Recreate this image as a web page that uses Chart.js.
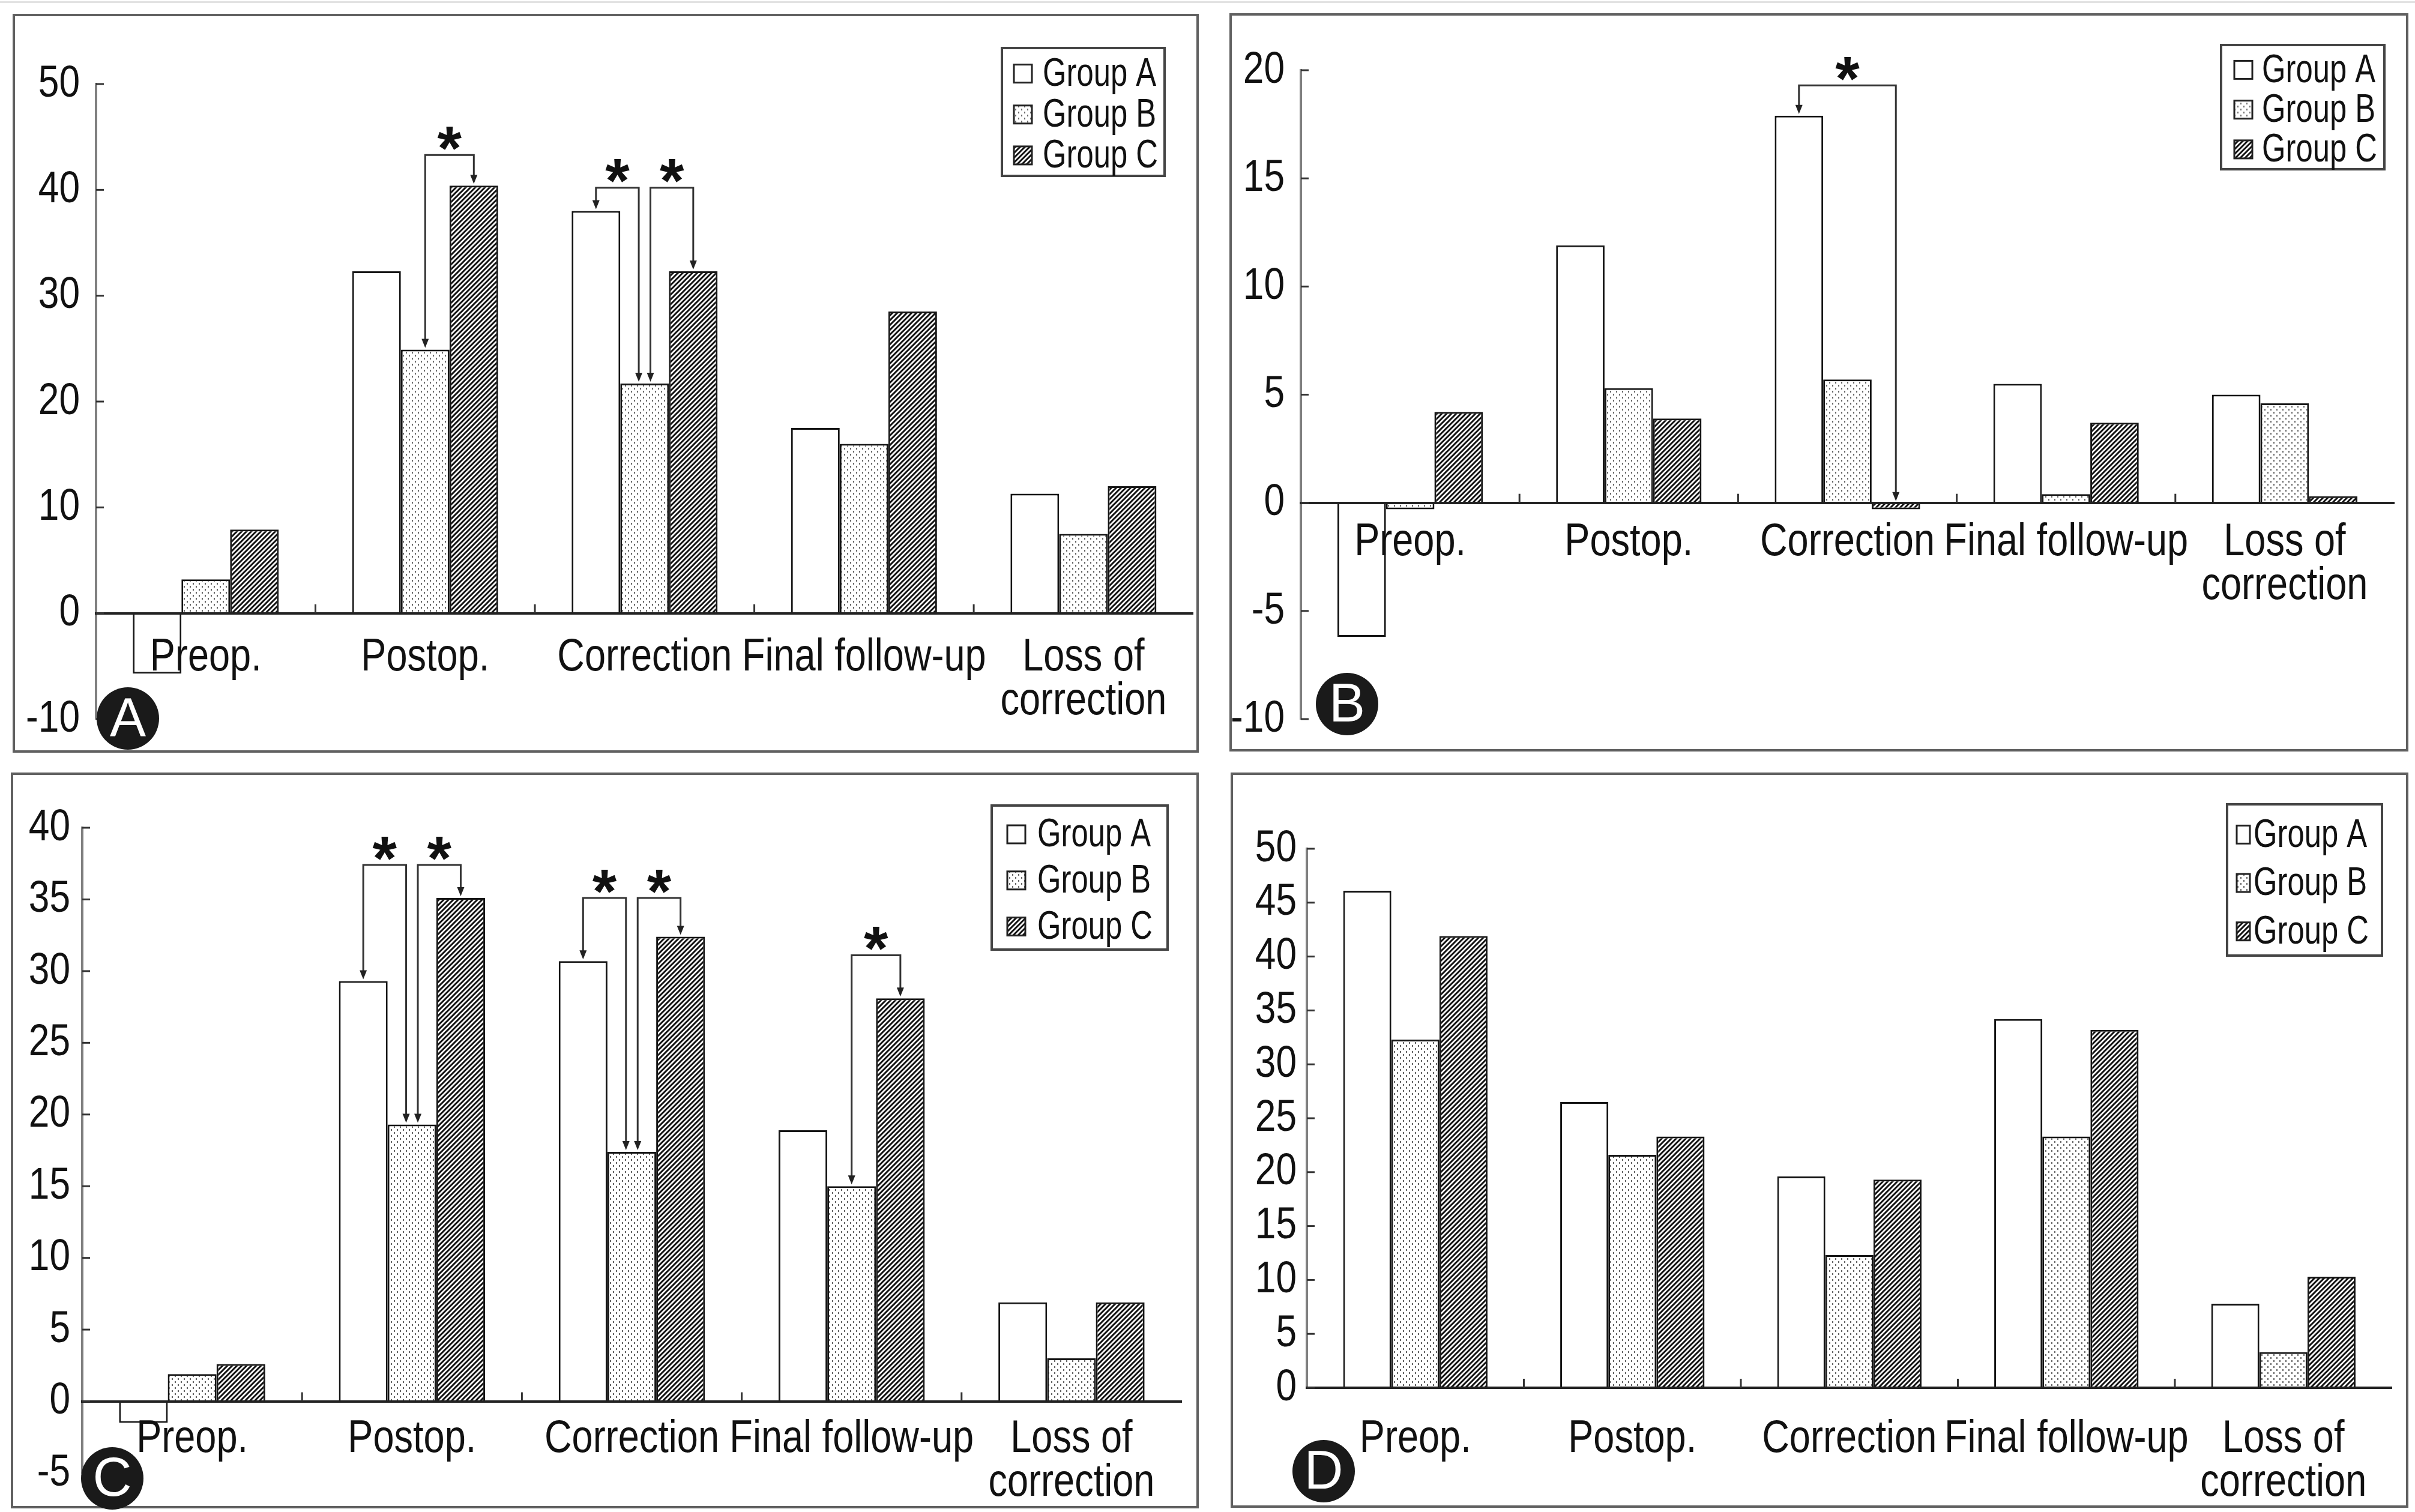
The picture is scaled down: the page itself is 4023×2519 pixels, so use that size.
<!DOCTYPE html>
<html><head><meta charset="utf-8">
<script src="https://cdn.jsdelivr.net/npm/chart.js@4/dist/chart.umd.min.js"></script>
<style>
html,body{margin:0;padding:0;background:#fff;}
body{width:4023px;height:2519px;position:relative;overflow:hidden;}
canvas{position:absolute;}
.box{position:absolute;border:4px solid #606060;box-sizing:border-box;}
.topline{position:absolute;left:0;top:2px;width:4023px;height:3px;background:#e2e2e2;}
</style></head><body>
<div class="topline"></div>
<div class="box" style="left:21px;top:23px;width:1976px;height:1231px"></div>
<div class="box" style="left:2048px;top:22px;width:1964px;height:1230px"></div>
<div class="box" style="left:18px;top:1287px;width:1979px;height:1226px"></div>
<div class="box" style="left:2050px;top:1287px;width:1962px;height:1225px"></div>
<canvas id="cA" width="2011" height="1270" style="left:0;top:0"></canvas>
<canvas id="cB" width="2012" height="1270" style="left:2011px;top:0"></canvas>
<canvas id="cC" width="2011" height="1249" style="left:0;top:1270px"></canvas>
<canvas id="cD" width="2012" height="1249" style="left:2011px;top:1270px"></canvas>
<script>
// ---------- data ----------
const categories = ['Preop.', 'Postop.', 'Correction', 'Final follow-up', ['Loss of', 'correction']];
const seriesNames = ['Group A', 'Group B', 'Group C'];

const aGroupA = [-5.7, 32.3, 38.0, 17.5, 11.3];
const aGroupB = [3.2, 24.9, 21.7, 16.0, 7.5];
const aGroupC = [7.9, 40.4, 32.3, 28.5, 12.0];

const bGroupA = [-6.2, 11.9, 17.9, 5.5, 5.0];
const bGroupB = [-0.3, 5.3, 5.7, 0.4, 4.6];
const bGroupC = [4.2, 3.9, -0.3, 3.7, 0.3];

const cGroupA = [-1.5, 29.3, 30.7, 18.9, 6.9];
const cGroupB = [1.9, 19.3, 17.4, 15.0, 3.0];
const cGroupC = [2.6, 35.1, 32.4, 28.1, 6.9];

const dGroupA = [46.1, 26.5, 19.6, 34.2, 7.8];
const dGroupB = [32.3, 21.6, 12.3, 23.3, 3.3];
const dGroupC = [41.9, 23.3, 19.3, 33.2, 10.3];

const aTicks = [-10, 0, 10, 20, 30, 40, 50];
const bTicks = [-10, -5, 0, 5, 10, 15, 20];
const cTicks = [-5, 0, 5, 10, 15, 20, 25, 30, 35, 40];
const dTicks = [0, 5, 10, 15, 20, 25, 30, 35, 40, 45, 50];

// significance brackets: [category index, from series, to series, bracket level]
const aSig = [[1, 1, 2, 43.3], [2, 0, 1, 40.2], [2, 1, 2, 40.2]];
const bSig = [[2, 0, 2, 19.3]];
const cSig = [[1, 0, 1, 37.4], [1, 1, 2, 37.4], [2, 0, 1, 35.1], [2, 1, 2, 35.1], [3, 1, 2, 31.1]];
const dSig = [];

const panelLetters = ['A', 'B', 'C', 'D'];

// ---------- styles ----------
const FONT = "'Liberation Sans', Arial, sans-serif";
const SQUEEZE = 0.83;   // condensed (Arial Narrow-like) rendering of the text

function makeDots() {
  const c = document.createElement('canvas'); c.width = 10; c.height = 10;
  const g = c.getContext('2d');
  g.fillStyle = '#ffffff'; g.fillRect(0, 0, 10, 10);
  g.fillStyle = '#6a6a6a';
  g.fillRect(1, 1, 2, 3); g.fillRect(6, 6, 2, 3);
  return g.createPattern(c, 'repeat');
}
function makeHatch() {
  const s = 8;
  const c = document.createElement('canvas'); c.width = s; c.height = s;
  const g = c.getContext('2d');
  g.fillStyle = '#ffffff'; g.fillRect(0, 0, s, s);
  g.strokeStyle = '#111'; g.lineWidth = 3.0;
  g.beginPath();
  g.moveTo(-2, s + 2); g.lineTo(s + 2, -2);
  g.moveTo(-2, 2); g.lineTo(2, -2);
  g.moveTo(s - 2, s + 2); g.lineTo(s + 2, s - 2);
  g.stroke();
  return g.createPattern(c, 'repeat');
}
const fills = ['#ffffff', makeDots(), makeHatch()];

const panels = [
  { id: 'cA', letter: panelLetters[0], data: [aGroupA, aGroupB, aGroupC], ticks: aTicks, sig: aSig,
    cw: 2011, ch: 1270, area: { l: 160, t: 140, r: 1998, b: 1220 }, yPad: 27, xPad: 38,
    legend: { x: 1669, y: 80, w: 271, h: 213, ix: 20, iw: 30, tx: 68 }, circle: { x: 213, y: 1197 } },
  { id: 'cB', letter: panelLetters[1], data: [bGroupA, bGroupB, bGroupC], ticks: bTicks, sig: bSig,
    cw: 2012, ch: 1270, area: { l: 156, t: 117, r: 1977, b: 1214 }, yPad: 27, xPad: 30,
    legend: { x: 1689, y: 75, w: 272, h: 207, ix: 22, iw: 30, tx: 68 }, circle: { x: 233, y: 1173 } },
  { id: 'cC', letter: panelLetters[2], data: [cGroupA, cGroupB, cGroupC], ticks: cTicks, sig: cSig,
    cw: 2011, ch: 1249, area: { l: 137, t: 109, r: 1968, b: 1193 }, yPad: 20, xPad: 27,
    legend: { x: 1652, y: 72, w: 293, h: 240, ix: 26, iw: 30, tx: 76 }, circle: { x: 187, y: 1193 } },
  { id: 'cD', letter: panelLetters[3], data: [dGroupA, dGroupB, dGroupC], ticks: dTicks, sig: dSig,
    cw: 2012, ch: 1249, area: { l: 166, t: 144, r: 1988, b: 1042 }, yPad: 17, xPad: 50,
    legend: { x: 1699, y: 70, w: 258, h: 252, ix: 16, iw: 22, tx: 44 }, circle: { x: 194, y: 1181 } }
];

function arrowHead(ctx, x, y) {
  ctx.beginPath();
  ctx.moveTo(x, y);
  ctx.lineTo(x - 6, y - 15);
  ctx.lineTo(x + 6, y - 15);
  ctx.closePath();
  ctx.fill();
}

function condense(ctx) {
  if (ctx.$patched) return;
  ctx.$patched = true;
  ctx.$sx = SQUEEZE;
  const orig = ctx.fillText;
  ctx.fillText = function (text, x, y, maxWidth) {
    const sx = this.$sx;
    if (sx === 1) return orig.call(this, text, x, y);
    this.save();
    this.translate(x, y);
    this.scale(sx, 1);
    orig.call(this, text, 0, 0);
    this.restore();
  };
}

const decor = {
  id: 'decor',
  afterDraw(chart) {
    const p = chart.$panel;
    const ctx = chart.ctx;
    const ys = chart.scales.y, xs = chart.scales.x;
    const ca = chart.chartArea;
    const y0 = ys.getPixelForValue(0);
    ctx.save();
    // inward y ticks
    ctx.strokeStyle = '#333'; ctx.lineWidth = 3;
    p.ticks.forEach(v => {
      const y = ys.getPixelForValue(v);
      ctx.beginPath(); ctx.moveTo(ca.left, y); ctx.lineTo(ca.left + 13, y); ctx.stroke();
    });
    // inward x ticks at category boundaries
    for (let i = 1; i < categories.length; i++) {
      const x = (xs.getPixelForValue(i - 1) + xs.getPixelForValue(i)) / 2;
      ctx.beginPath(); ctx.moveTo(x, y0); ctx.lineTo(x, y0 - 15); ctx.stroke();
    }
    // significance brackets
    p.sig.forEach((s, k) => {
      const [cat, s1, s2, level] = s;
      const b1 = chart.getDatasetMeta(s1).data[cat];
      const b2 = chart.getDatasetMeta(s2).data[cat];
      const shared1 = p.sig.some((o, j) => j !== k && o[0] === cat && o[2] === s1);
      const shared2 = p.sig.some((o, j) => j !== k && o[0] === cat && o[1] === s2);
      const x1 = b1.x + (shared1 ? 0.12 * b1.width : 0);
      const x2 = b2.x - (shared2 ? 0.12 * b2.width : 0);
      const yt = ys.getPixelForValue(level);
      const e1 = Math.min(b1.y, b1.base) - 3;
      const e2 = Math.min(b2.y, b2.base) - 3;
      ctx.strokeStyle = '#333'; ctx.fillStyle = '#222'; ctx.lineWidth = 3;
      ctx.beginPath();
      ctx.moveTo(x1, e1 - 12); ctx.lineTo(x1, yt); ctx.lineTo(x2, yt); ctx.lineTo(x2, e2 - 12);
      ctx.stroke();
      arrowHead(ctx, x1, e1); arrowHead(ctx, x2, e2);
      ctx.fillStyle = '#111';
      ctx.$sx = 1;
      ctx.font = "bold 104px 'Liberation Sans', Arial, sans-serif";
      ctx.textAlign = 'center'; ctx.textBaseline = 'middle';
      ctx.fillText('*', (x1 + x2) / 2, yt - 4);
      ctx.$sx = SQUEEZE;
    });
    // legend
    const L = p.legend;
    ctx.fillStyle = '#fff'; ctx.fillRect(L.x, L.y, L.w, L.h);
    ctx.strokeStyle = '#444'; ctx.lineWidth = 4;
    ctx.strokeRect(L.x, L.y, L.w, L.h);
    const rows = [0.2, 0.52, 0.84];
    seriesNames.forEach((name, i) => {
      const cy = L.y + L.h * rows[i];
      ctx.fillStyle = fills[i];
      ctx.fillRect(L.x + L.ix, cy - 15, L.iw, 30);
      ctx.strokeStyle = '#222'; ctx.lineWidth = 3;
      ctx.strokeRect(L.x + L.ix, cy - 15, L.iw, 30);
      ctx.fillStyle = '#111';
      ctx.font = '66px ' + FONT;
      ctx.textAlign = 'left'; ctx.textBaseline = 'middle';
      ctx.$sx = 0.77;
      ctx.fillText(name, L.x + L.tx, cy + 2);
      ctx.$sx = SQUEEZE;
    });
    // panel letter
    const C = p.circle;
    ctx.fillStyle = '#1a1a1a';
    ctx.beginPath(); ctx.arc(C.x, C.y, 52, 0, Math.PI * 2); ctx.fill();
    ctx.fillStyle = '#fff';
    ctx.font = "90px 'Liberation Sans', Arial, sans-serif";
    ctx.textAlign = 'center'; ctx.textBaseline = 'middle';
    ctx.$sx = 1;
    ctx.fillText(p.letter, C.x, C.y + 4);
    ctx.$sx = SQUEEZE;
    ctx.restore();
  }
};

panels.forEach(p => {
  const cv = document.getElementById(p.id);
  new Chart(cv, {
    type: 'bar',
    data: {
      labels: categories,
      datasets: p.data.map((vals, i) => ({
        label: seriesNames[i], data: vals,
        backgroundColor: fills[i], borderColor: '#151515', borderWidth: 3,
        borderSkipped: 'start', categoryPercentage: 0.665, barPercentage: 1
      }))
    },
    options: {
      responsive: false, animation: false, devicePixelRatio: 1,
      layout: { padding: { left: 0, top: p.area.t, right: p.cw - p.area.r, bottom: p.ch - p.area.b } },
      plugins: { legend: { display: false }, tooltip: { enabled: false } },
      scales: {
        x: {
          position: { y: 0 }, offset: true,
          grid: { display: false, drawTicks: false },
          border: { display: true, color: '#222', width: 4, z: 1 },
          ticks: { color: '#111', font: { family: FONT, size: 76, lineHeight: 0.96 }, padding: p.xPad,
                   maxRotation: 0, minRotation: 0, autoSkip: false, z: 2 }
        },
        y: {
          min: p.ticks[0], max: p.ticks[p.ticks.length - 1],
          afterBuildTicks: s => { s.ticks = p.ticks.map(v => ({ value: v })); },
          afterFit: s => { s.width = p.area.l; },
          grid: { display: false, drawTicks: false },
          border: { display: true, color: '#808080', width: 4 },
          ticks: { color: '#111', font: { family: FONT, size: 75 }, padding: p.yPad, autoSkip: false }
        }
      }
    },
    plugins: [{ id: 'attach', beforeInit(c) { c.$panel = p; condense(c.ctx); } }, decor]
  });
});
</script>
</body></html>
